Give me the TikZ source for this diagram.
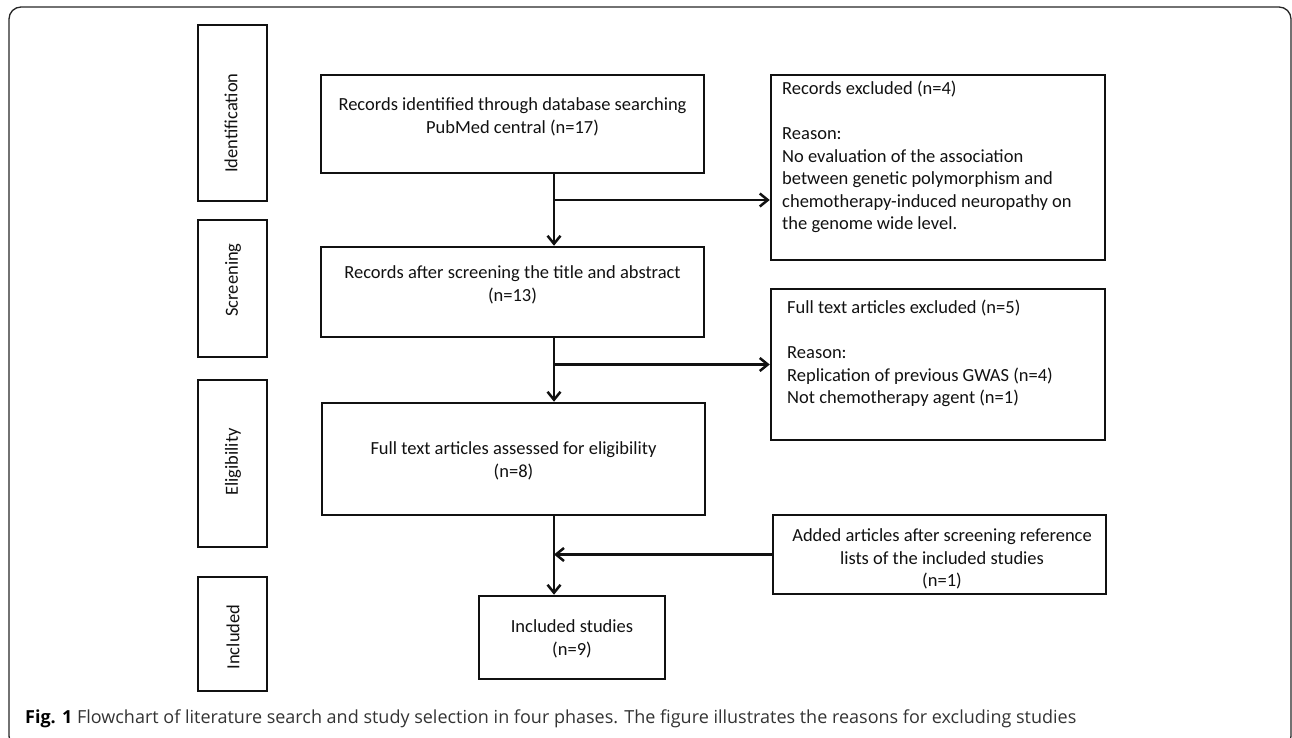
\documentclass[tikz,border=0pt]{standalone}
\usepackage{fontspec}
\setmainfont{Carlito}
\newfontfamily\capfont{Open Sans}
\usetikzlibrary{arrows.meta,calc}
\definecolor{ink}{HTML}{111111}
\definecolor{capgray}{HTML}{333333}
\begin{document}
\begin{tikzpicture}[x=1pt,y=-1pt,
  box/.style={draw=ink, line width=2.5pt, inner sep=0pt},
  txt/.style={inner sep=0pt, text=ink, font=\fontsize{18.5}{23}\selectfont, align=center},
  ltxt/.style={inner sep=0pt, text=ink, font=\fontsize{18.5}{22.5}\selectfont, align=left, anchor=north west},
  ptxt/.style={inner sep=0pt, text=ink, font=\fontsize{18.5}{23}\selectfont, rotate=90},
  arr/.style={draw=ink, line width=2.5pt, -{Straight Barb[length=8pt,width=13pt]}}
]
\useasboundingbox (0,0) rectangle (1292,738);
% outer frame
\draw[draw=black!85, line width=1.3pt, rounded corners=12pt] (9,7) rectangle (1291,748);

% phase boxes
\node[box, minimum width=69pt, minimum height=176pt] (p1) at (232.5,113) {};
\node[box, minimum width=69pt, minimum height=137pt] (p2) at (232.5,288.5) {};
\node[box, minimum width=69pt, minimum height=167pt] (p3) at (232.5,463.5) {};
\node[box, minimum width=69pt, minimum height=114pt] (p4) at (232.5,634) {};
\node[ptxt] (p1t) at (231,123) {Identification};
\node[ptxt] (p2t) at (233,280) {Screening};
\node[ptxt] (p3t) at (233,462) {Eligibility};
\node[ptxt] (p4t) at (233,637) {Included};

% main column
\node[box, minimum width=383pt, minimum height=98pt] (b1) at (512.5,124) {};
\node[box, minimum width=383pt, minimum height=90pt] (b2) at (512.5,292) {};
\node[box, minimum width=383pt, minimum height=112pt] (b3) at (513.5,459) {};
\node[box, minimum width=186pt, minimum height=83pt] (b4) at (572,637.5) {};
\node[txt] (b1t) at (512.5,117) {Records identified through database searching\\PubMed central (n=17)};
\node[txt] (b2t) at (512.5,285) {Records after screening the title and abstract\\(n=13)};
\node[txt] (b3t) at (513.5,461) {Full text articles assessed for eligibility\\(n=8)};
\node[txt] (b4t) at (572,639) {Included studies\\(n=9)};

% side boxes
\node[box, minimum width=334pt, minimum height=185pt] (ex1) at (938,167.5) {};
\node[box, minimum width=334pt, minimum height=151pt] (ex2) at (938,364.5) {};
\node[box, minimum width=333pt, minimum height=79pt] (add) at (939.5,554.5) {};
\node[ltxt] (ex1t) at (782,81) {Records excluded (n=4)\\[22.5pt]Reason:\\No evaluation of the association\\between genetic polymorphism and\\chemotherapy-induced neuropathy on\\the genome wide level.};
\node[ltxt] (ex2t) at (787,300) {Full text articles excluded (n=5)\\[22.5pt]Reason:\\Replication of previous GWAS (n=4)\\Not chemotherapy agent (n=1)};
\node[txt, font=\fontsize{18.5}{22.5}\selectfont] (addt) at (942,559) {Added articles after screening reference\\lists of the included studies\\(n=1)};

% connectors
\coordinate (col) at (554,0);
\coordinate (j1) at (554,200);
\draw[arr] (b1.south -| col) -- (b2.north -| col);
\draw[arr] (j1) -- (j1 -| ex1.west);
\draw[arr] (b2.south -| col) -- (b3.north -| col);
\draw[arr] (col |- ex2.west) -- (ex2.west);
\draw[arr] (b3.south -| col) -- (b4.north -| col);
\draw[arr] (add.west) -- (add.west -| col);

% caption
\node[anchor=base west, inner sep=0pt, text=capgray, font=\capfont\fontsize{18}{21}\selectfont] (cap) at (25,723) {{\color{black}\bfseries Fig. 1} Flowchart of literature search and study selection in four phases. The figure illustrates the reasons for excluding studies};
\end{tikzpicture}
\end{document}
